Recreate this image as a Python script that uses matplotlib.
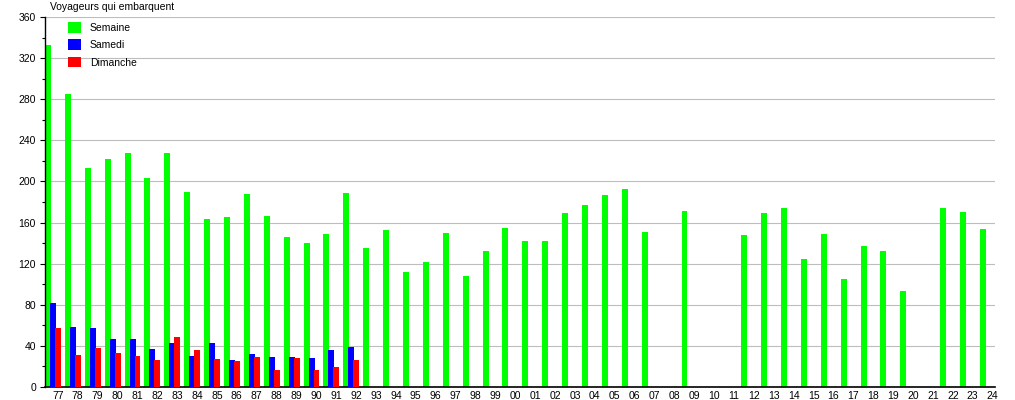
import numpy as np
import matplotlib
matplotlib.use("Agg")
import matplotlib.pyplot as plt
from matplotlib.ticker import MultipleLocator

plt.rcParams['font.family'] = ['Liberation Sans', 'DejaVu Sans']

# Années 1977 -> 2024 (libellés sur deux chiffres)
years = [f"{y % 100:02d}" for y in range(1977, 2025)]

# Voyageurs qui embarquent (None = pas de donnée)
semaine = [333, 285, 213, 222, 228, 203, 228, 190, 163, 165, 188, 166, 146, 140, 149, 189,
           135, 153, 112, 122, 150, 108, 132, 155, 142, 142, 169, 177, 187, 193, 151, None,
           171, None, None, 148, 169, 174, 125, 149, 105, 137, 132, 93, None, 174, 170, 154]
samedi = [82, 58, 57, 47, 47, 37, 43, 30, 43, 26, 32, 29, 29, 28, 36, 39]
dimanche = [57, 31, 38, 33, 30, 26, 49, 36, 27, 25, 29, 17, 28, 17, 19, 26]

sem = np.array([np.nan if v is None else v for v in semaine], dtype=float)
x = np.arange(len(years))

fig = plt.figure(figsize=(10.15, 4.0), dpi=100)
ax = fig.add_axes([45 / 1015, 13 / 400, 950 / 1015, 370 / 400])

w = 0.3
ax.bar(x, sem, width=w, align='edge', color='#00ff00', label='Semaine', zorder=2)
ax.bar(x[:len(samedi)] + 0.25, samedi, width=w, align='edge', color='#0000ff', label='Samedi', zorder=3)
ax.bar(x[:len(dimanche)] + 0.5, dimanche, width=w, align='edge', color='#ff0000', label='Dimanche', zorder=4)

ax.set_xlim(0, 47.76)
ax.set_ylim(0, 360)

ax.set_xticks(x + 0.64)
ax.set_xticklabels(years)
ax.tick_params(axis='x', length=0, pad=3, labelsize=7.5)

ax.yaxis.set_major_locator(MultipleLocator(40))
ax.yaxis.set_minor_locator(MultipleLocator(20))
ax.tick_params(axis='y', which='major', length=3.5, width=0.8, pad=3, labelsize=7.5)
ax.tick_params(axis='y', which='minor', length=2, width=0.8)

ax.grid(axis='y', which='major', color='#bdbdbd', linewidth=0.8, zorder=0)
ax.set_axisbelow(True)

for s in ['top', 'right']:
    ax.spines[s].set_visible(False)
ax.spines['left'].set_linewidth(1.0)
ax.spines['bottom'].set_linewidth(1.2)

fig.text(50 / 1015, 1 - 7 / 400, "Voyageurs qui embarquent", fontsize=7.5, ha='left', va='center')

ax.legend(loc='upper left', bbox_to_anchor=(66 / 1015, 1 - 20 / 400), bbox_transform=fig.transFigure,
          frameon=False, fontsize=7.5, handlelength=1.2, handleheight=1.2,
          handletextpad=0.9, labelspacing=0.62, borderpad=0.2, borderaxespad=0)

fig.savefig("out.png", dpi=100)
